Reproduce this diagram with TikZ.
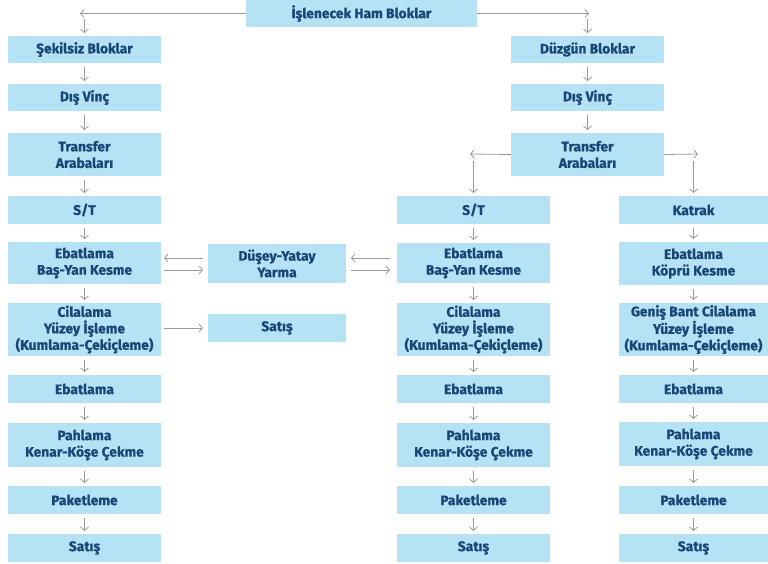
\documentclass[tikz,border=0pt]{standalone}
\usepackage{fontspec}
\setmainfont{Fira Sans}[BoldFeatures={FakeBold=0.8}]
\usetikzlibrary{arrows.meta}
\definecolor{boxfill}{HTML}{B5E2F4}
\definecolor{boxtext}{HTML}{184676}
\definecolor{arrgray}{HTML}{9A9A9A}
\begin{document}
\begin{tikzpicture}[x=1pt,y=-1pt,
  box/.style={fill=boxfill,text=boxtext,font=\bfseries\fontsize{13.8}{16.5}\selectfont,align=center,inner sep=0pt,outer sep=0pt},
  arr/.style={draw=arrgray,line width=0.8pt,-{Straight Barb[length=3.5pt,width=8pt]}}]
\useasboundingbox (0,0) rectangle (768,564);
% top
\node[box,minimum width=231pt,minimum height=27pt] (top) at (361.5,13.5) {İşlenecek Ham Bloklar};
% left column
\tikzset{lc/.style={box,minimum width=153pt}}
\node[lc,minimum height=27pt] (L1) at (84.5,49.5) {Şekilsiz Bloklar};
\node[lc,minimum height=27pt] (L2) at (84.5,97.5) {Dış Vinç};
\node[lc,minimum height=43pt] (L3) at (84.5,154.5) {Transfer\\Arabaları};
\node[lc,minimum height=28pt] (L4) at (84.5,210) {S/T};
\node[lc,minimum height=42pt] (L5) at (84.5,263) {Ebatlama\\Baş-Yan Kesme};
\node[lc,minimum height=53pt] (L6) at (84.5,329.5) {Cilalama\\Yüzey İşleme\\(Kumlama-Çekiçleme)};
\node[lc,minimum height=28pt] (L7) at (84.5,389) {Ebatlama};
\node[lc,minimum height=44pt] (L8) at (84.5,445) {Pahlama\\Kenar-Köşe Çekme};
\node[lc,minimum height=28pt] (L9) at (84.5,500) {Paketleme};
\node[lc,minimum height=28pt] (L10) at (84.5,548) {Satış};
% middle
\node[box,minimum width=138pt,minimum height=39pt] (M5) at (277,263.5) {Düşey-Yatay\\Yarma};
\node[box,minimum width=138pt,minimum height=28pt] (M6) at (277,328) {Satış};
% Duzgun column
\node[lc,minimum height=27pt] (D1) at (587.5,49.5) {Düzgün Bloklar};
\node[lc,minimum height=27pt] (D2) at (587.5,97.5) {Dış Vinç};
\node[lc,minimum height=43pt] (D3) at (587.5,154.5) {Transfer\\Arabaları};
% column 3
\node[lc,minimum height=28pt] (C4) at (473.5,210) {S/T};
\node[lc,minimum height=40pt] (C5) at (473.5,263) {Ebatlama\\Baş-Yan Kesme};
\node[lc,minimum height=53pt] (C6) at (473.5,329.5) {Cilalama\\Yüzey İşleme\\(Kumlama-Çekiçleme)};
\node[lc,minimum height=28pt] (C7) at (473.5,389) {Ebatlama};
\node[lc,minimum height=44pt] (C8) at (473.5,445) {Pahlama\\Kenar-Köşe Çekme};
\node[lc,minimum height=28pt] (C9) at (473.5,500) {Paketleme};
\node[lc,minimum height=28pt] (C10) at (473.5,548) {Satış};
% right column
\tikzset{rc/.style={box,minimum width=149pt}}
\node[rc,minimum height=28pt] (R4) at (693.5,210) {Katrak};
\node[rc,minimum height=43pt] (R5) at (693.5,263.5) {Ebatlama\\Köprü Kesme};
\node[rc,minimum height=53pt] (R6) at (693.5,329.5) {Geniş Bant Cilalama\\Yüzey İşleme\\(Kumlama-Çekiçleme)};
\node[rc,minimum height=28pt] (R7) at (693.5,389) {Ebatlama};
\node[rc,minimum height=44pt] (R8) at (693.5,444) {Pahlama\\Kenar-Köşe Çekme};
\node[rc,minimum height=28pt] (R9) at (693.5,500) {Paketleme};
\node[rc,minimum height=28pt] (R10) at (693.5,548) {Satış};
% top split
\coordinate (tl) at (80,13.5);
\coordinate (tr) at (589,13.5);
\coordinate (tld) at (84.5,19);
\coordinate (trd) at (587.5,19);
\draw[arr] (top.west) -- (tl);
\draw[arr] (top.east) -- (tr);
\draw[arr] (tld) -- ([yshift=3pt]L1.north);
\draw[arr] (trd) -- ([yshift=3pt]D1.north);
% transfer split
\coordinate (sl) at (470,154);
\coordinate (sr) at (698,154);
\coordinate (sld) at (473.5,161);
\coordinate (srd) at (693.5,161);
\draw[arr] (D3.west) -- (sl);
\draw[arr] (D3.east) -- (sr);
\draw[arr] (sld) -- ([yshift=3pt]C4.north);
\draw[arr] (srd) -- ([yshift=3pt]R4.north);
% vertical chains
\foreach \a/\b in {L1/L2,L2/L3,L3/L4,L4/L5,L5/L6,L6/L7,L7/L8,L8/L9,L9/L10,
                   D1/D2,D2/D3,
                   C4/C5,C5/C6,C6/C7,C7/C8,C8/C9,C9/C10,
                   R4/R5,R5/R6,R6/R7,R7/R8,R8/R9,R9/R10}
  \draw[arr] ([yshift=-4pt]\a.south) -- ([yshift=3pt]\b.north);
% horizontal pairs
\draw[arr] ([xshift=-5pt]M5.west |- 0,258) -- ([xshift=3pt]L5.east |- 0,258);
\draw[arr] ([xshift=3pt]L5.east |- 0,270) -- ([xshift=-5pt]M5.west |- 0,270);
\draw[arr] ([xshift=-7pt]C5.west |- 0,258) -- ([xshift=5pt]M5.east |- 0,258);
\draw[arr] ([xshift=5pt]M5.east |- 0,270) -- ([xshift=-7pt]C5.west |- 0,270);
\draw[arr] ([xshift=3pt]L6.east |- 0,328) -- ([xshift=-5pt]M6.west |- 0,328);
\end{tikzpicture}
\end{document}
